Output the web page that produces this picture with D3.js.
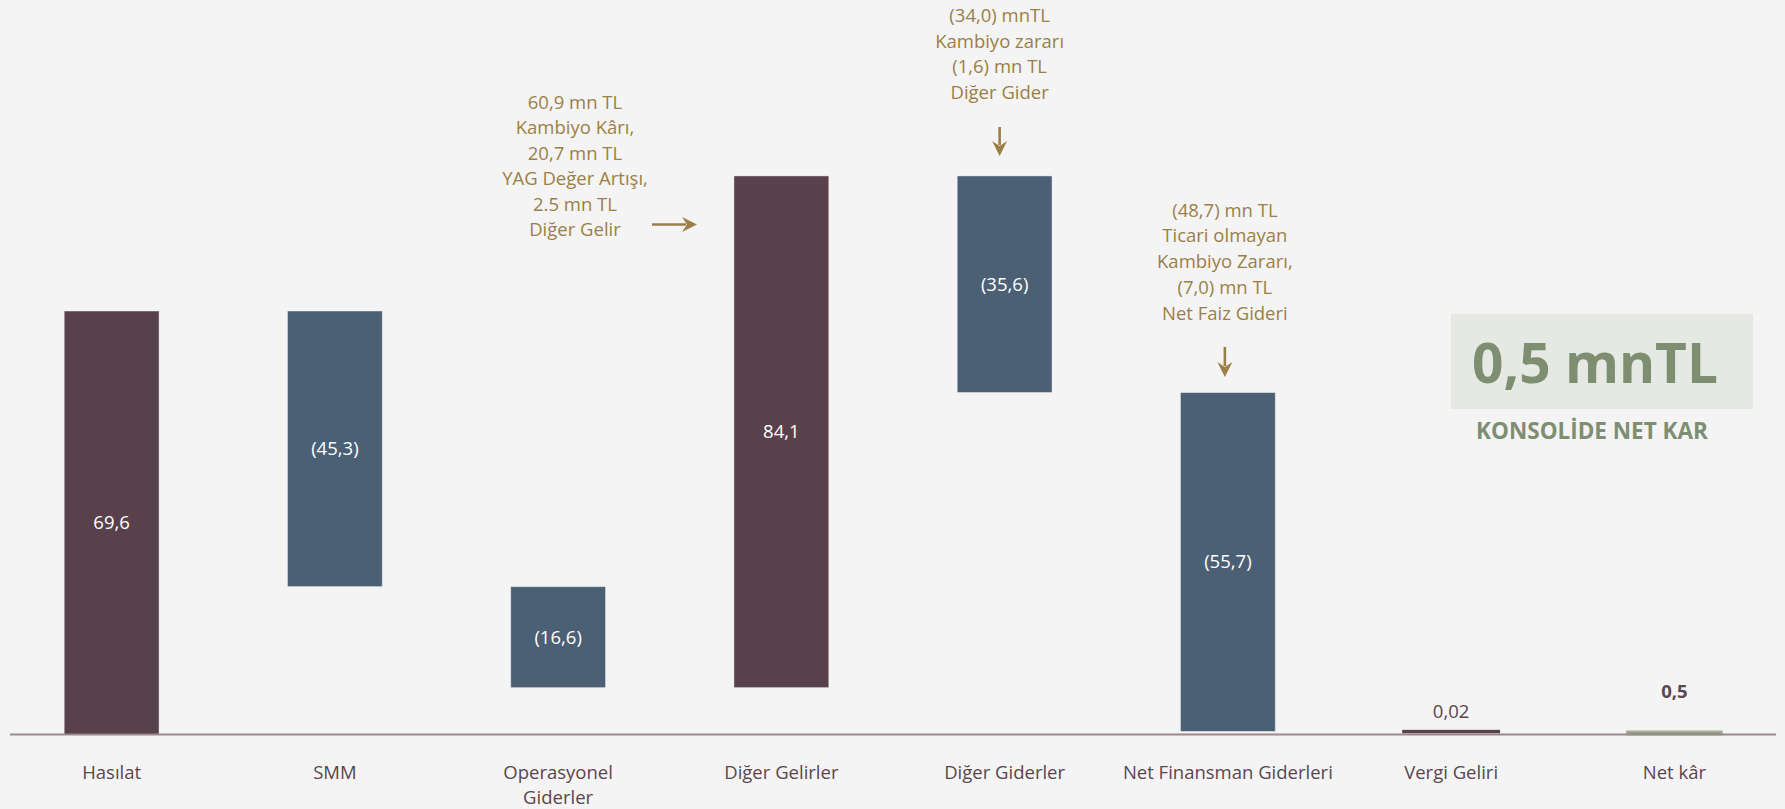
<!DOCTYPE html>
<html>
<head>
<meta charset="utf-8">
<script src="https://cdn.jsdelivr.net/npm/d3@7"></script>
<style>
  html, body { margin: 0; padding: 0; background: #f4f4f4; }
  svg { display: block; font-family: "Open Sans", "Noto Sans", sans-serif; }
</style>
</head>
<body>
<svg width="1785" height="809"></svg>
<script>
var categories = ["Hasılat", "SMM", "Operasyonel Giderler", "Diğer Gelirler",
                  "Diğer Giderler", "Net Finansman Giderleri", "Vergi Geliri", "Net kâr"];
var tickLines = [["Hasılat"], ["SMM"], ["Operasyonel", "Giderler"], ["Diğer Gelirler"],
                 ["Diğer Giderler"], ["Net Finansman Giderleri"], ["Vergi Geliri"], ["Net kâr"]];
var values = [69.6, -45.3, -16.6, 84.1, -35.6, -55.7, 0.02, 0.5];
var kinds  = ["total", "step", "step", "step", "step", "step", "step", "total"];
var valueLabels = ["69,6", "(45,3)", "(16,6)", "84,1", "(35,6)", "(55,7)", "0,02", "0,5"];

var noteGelir = ["60,9 mn TL", "Kambiyo Kârı,", "20,7 mn TL", "YAG Değer Artışı,", "2.5 mn TL", "Diğer Gelir"];
var noteGider = ["(34,0) mnTL", "Kambiyo zararı", "(1,6) mn TL", "Diğer Gider"];
var noteFinans = ["(48,7) mn TL", "Ticari olmayan", "Kambiyo Zararı,", "(7,0) mn TL", "Net Faiz Gideri"];

var MAROON = "#58414b", SLATE = "#4b6075", GREEN = "#7e8e70", GOLD = "#9c7f46",
    INK = "#5a464e", BASE = "#9b878c";

// waterfall start / end
var rows = [], run = 0;
values.forEach(function (v, i) {
  var a, b;
  if (kinds[i] == "total") { a = 0; b = v; run = v; }
  else { a = run; b = run + v; run = b; }
  rows.push({ cat: categories[i], v: v, lo: Math.min(a, b), hi: Math.max(a, b), label: valueLabels[i], i: i });
});

var svg = d3.select("svg");

var x = d3.scaleBand()
  .domain(categories)
  .range([0, 1786])
  .paddingInner(0.575)
  .paddingOuter(0.2875);

var y = d3.scaleLinear()
  .domain([0, 100])
  .range([734.5, 126]);

var bw = x.bandwidth();

function barColor(d) {
  if (d.i == rows.length - 1) return GREEN;
  return d.v >= 0 ? MAROON : SLATE;
}

// bars
svg.selectAll(".bar")
  .data(rows)
  .enter().append("rect")
    .attr("class", "bar")
    .attr("x", function (d) { return x(d.cat); })
    .attr("y", function (d) { return y(d.hi); })
    .attr("width", bw)
    .attr("height", function (d) { return Math.max(0.5, y(d.lo) - y(d.hi)); })
    .attr("fill", barColor)
    .attr("stroke", function (d) {
      if (d.i == 6) return MAROON;
      if (d.i == 7) return "#a9b39e";
      return "rgba(255,255,255,0.45)";
    })
    .attr("stroke-width", function (d) { return d.i == 6 ? 3 : (d.i == 7 ? 2 : 1); });

// baseline
svg.append("line")
  .attr("x1", 10).attr("x2", 1776)
  .attr("y1", y(0)).attr("y2", y(0))
  .attr("stroke", BASE)
  .attr("stroke-width", 2);

// value labels
var big = rows.filter(function (d) { return y(d.lo) - y(d.hi) > 30; });
var small = rows.filter(function (d) { return y(d.lo) - y(d.hi) <= 30; });

svg.selectAll(".vlabel")
  .data(big)
  .enter().append("text")
    .attr("class", "vlabel")
    .attr("x", function (d) { return x(d.cat) + bw / 2; })
    .attr("y", function (d) { return (y(d.lo) + y(d.hi)) / 2; })
    .attr("dy", "0.35em")
    .attr("text-anchor", "middle")
    .attr("fill", "#ffffff")
    .attr("font-size", 18.5)
    .text(function (d) { return d.label; });

svg.selectAll(".slabel")
  .data(small)
  .enter().append("text")
    .attr("class", "slabel")
    .attr("x", function (d) { return x(d.cat) + bw / 2; })
    .attr("y", function (d) { return y(d.hi) - (d.i == 7 ? 33 : 13); })
    .attr("text-anchor", "middle")
    .attr("fill", INK)
    .attr("font-size", 18.5)
    .attr("font-weight", function (d) { return d.i == 7 ? "bold" : "normal"; })
    .text(function (d) { return d.label; });

// category labels
var ticks = svg.selectAll(".tick")
  .data(categories)
  .enter().append("text")
    .attr("class", "tick")
    .attr("x", function (d) { return x(d) + bw / 2; })
    .attr("y", 779)
    .attr("text-anchor", "middle")
    .attr("fill", INK)
    .attr("font-size", 18.5);

ticks.selectAll("tspan")
  .data(function (d, i) { return tickLines[i]; })
  .enter().append("tspan")
    .attr("x", function () { return this.parentNode.getAttribute("x"); })
    .attr("dy", function (d, j) { return j == 0 ? 0 : 25; })
    .text(function (d) { return d; });

// annotations
function note(lines, cx, top, step) {
  svg.append("g").selectAll("text")
    .data(lines)
    .enter().append("text")
      .attr("x", cx)
      .attr("y", function (d, j) { return top + j * step; })
      .attr("text-anchor", "middle")
      .attr("fill", GOLD)
      .attr("font-size", 18.5)
      .text(function (d) { return d; });
}

function arrow(x1, y1, x2, y2) {
  var ang = Math.atan2(y2 - y1, x2 - x1), L = 15, W = 7.5;
  var bx = x2 - L * Math.cos(ang), by = y2 - L * Math.sin(ang);
  var nx = -Math.sin(ang), ny = Math.cos(ang);
  svg.append("line")
    .attr("x1", x1).attr("y1", y1).attr("x2", bx + 4 * Math.cos(ang)).attr("y2", by + 4 * Math.sin(ang))
    .attr("stroke", GOLD).attr("stroke-width", 2.6);
  var cx = x2 - (L - 5) * Math.cos(ang), cy = y2 - (L - 5) * Math.sin(ang);
  svg.append("path")
    .attr("d", "M" + x2 + "," + y2 +
               "L" + (bx + nx * W) + "," + (by + ny * W) +
               "L" + cx + "," + cy +
               "L" + (bx - nx * W) + "," + (by - ny * W) + "Z")
    .attr("fill", GOLD);
}

var c4 = x(categories[4]) + bw / 2, c5 = x(categories[5]) + bw / 2;

note(noteGelir, 575, 108.5, 25.5);
arrow(652, 224.5, 697, 224.5);

note(noteGider, c4 - 5, 22, 25.5);
arrow(c4 - 5, 127, c4 - 5, 156);

note(noteFinans, c5 - 3, 216.5, 25.8);
arrow(c5 - 3, 347, c5 - 3, 377);

// net profit callout
svg.append("rect")
  .attr("x", 1451).attr("y", 314)
  .attr("width", 302).attr("height", 95)
  .attr("fill", "#e5e8e3");

svg.append("text")
  .attr("x", 1595).attr("y", 383)
  .attr("text-anchor", "middle")
  .attr("fill", GREEN)
  .attr("font-size", 55)
  .attr("font-weight", "bold")
  .text("0,5 mnTL");

svg.append("text")
  .attr("x", 1592).attr("y", 439)
  .attr("text-anchor", "middle")
  .attr("fill", GREEN)
  .attr("font-size", 22.5)
  .attr("font-weight", "bold")
  .text("KONSOLİDE NET KAR");
</script>
</body>
</html>
